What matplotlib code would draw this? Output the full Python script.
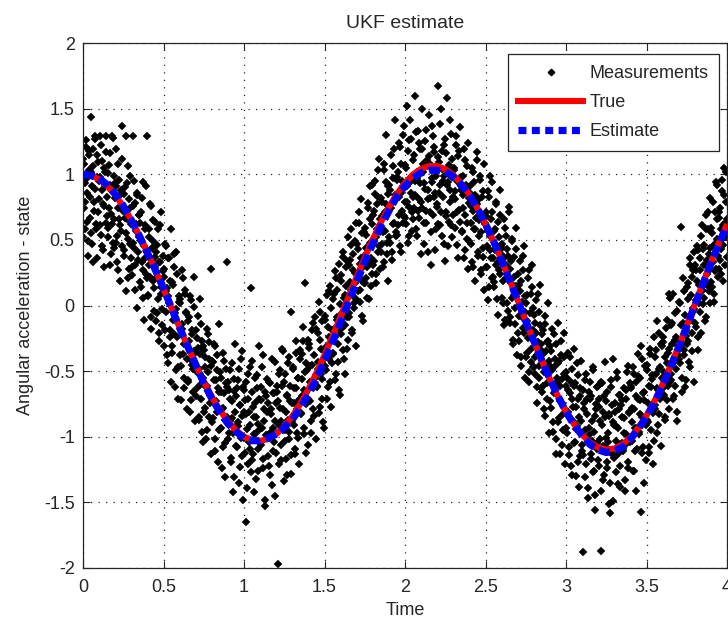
import numpy as np
import matplotlib
matplotlib.use("Agg")
import matplotlib.pyplot as plt
from matplotlib.lines import Line2D

# ---------------- data ----------------
title = "UKF estimate"
xlabel = "Time"
ylabel = "Angular acceleration - state"
legend_labels = ["Measurements", "True", "Estimate"]
xticks = [0, 0.5, 1, 1.5, 2, 2.5, 3, 3.5, 4]
xtick_labels = ["0", "0.5", "1", "1.5", "2", "2.5", "3", "3.5", "4"]
yticks = [-2, -1.5, -1, -0.5, 0, 0.5, 1, 1.5, 2]
ytick_labels = ["-2", "-1.5", "-1", "-0.5", "0", "0.5", "1", "1.5", "2"]

# curves sampled every 0.05 s from t=0 to t=4
curve_t0, curve_t1, curve_n = 0.0, 4.0, 81
true_state = [
    1.000, 0.991, 0.961, 0.911, 0.842, 0.755, 0.652, 0.534, 0.406, 0.268,
    0.125, -0.022, -0.169, -0.312, -0.450, -0.578, -0.695, -0.797, -0.883, -0.951,
    -0.999, -1.026, -1.032, -1.016, -0.979, -0.921, -0.844, -0.749, -0.638, -0.513,
    -0.377, -0.233, -0.083, 0.068, 0.219, 0.366, 0.505, 0.634, 0.750, 0.851,
    0.934, 0.998, 1.041, 1.063, 1.062, 1.039, 0.994, 0.928, 0.843, 0.740,
    0.620, 0.488, 0.345, 0.194, 0.039, -0.117, -0.272, -0.421, -0.562, -0.691,
    -0.806, -0.905, -0.985, -1.044, -1.082, -1.097, -1.090, -1.059, -1.006, -0.932,
    -0.838, -0.727, -0.599, -0.459, -0.309, -0.152, 0.008, 0.169, 0.327, 0.478,
    0.620,
]
estimate = [
    1.00, 0.99, 0.97, 0.92, 0.85, 0.76, 0.65, 0.53, 0.40, 0.27,
    0.13, -0.02, -0.17, -0.31, -0.45, -0.59, -0.71, -0.81, -0.90, -0.96,
    -1.01, -1.03, -1.03, -1.01, -0.98, -0.93, -0.87, -0.78, -0.68, -0.56,
    -0.42, -0.28, -0.13, 0.03, 0.18, 0.33, 0.47, 0.60, 0.72, 0.83,
    0.91, 0.97, 1.01, 1.03, 1.03, 1.02, 0.98, 0.92, 0.84, 0.74,
    0.62, 0.49, 0.34, 0.19, 0.04, -0.12, -0.27, -0.42, -0.56, -0.69,
    -0.81, -0.91, -0.99, -1.06, -1.10, -1.12, -1.11, -1.08, -1.02, -0.94,
    -0.85, -0.74, -0.61, -0.47, -0.32, -0.16, 0.00, 0.16, 0.32, 0.47,
    0.61,
]

# measurements, set A: every 0.005 s from t=0 to t=4
meas_a_t0, meas_a_t1, meas_a_n = 0.0, 4.0, 801
measurements_a = [
    1.12, 0.74, 0.93, 0.58, 1.21, 0.86, 0.49, 1.03, 1.18, 0.67,
    1.44, 0.91, 0.33, 1.06, 0.79, 1.29, 0.62, 0.98, 1.15, 0.71,
    0.95, 1.29, 0.54, 0.88, 1.10, 0.42, 0.76, 1.02, 0.63, 1.29,
    0.83, 0.59, 1.07, 0.31, 0.92, 0.70, 1.29, 0.48, 0.99, 0.66,
    0.82, 1.19, 0.53, 0.74, 0.27, 0.96, 0.61, 0.88, 1.37, 0.45,
    0.73, 0.38, 0.90, 0.55, 1.29, 0.66, 0.21, 0.81, 0.47, 0.99,
    0.62, 0.29, 1.29, 0.44, 0.78, 0.12, 0.57, 0.86, 0.35, 0.69,
    0.52, 0.18, 0.71, 0.33, 0.94, 0.06, 0.45, 0.61, 0.24, 1.29,
    0.41, 0.07, 0.58, 0.22, 0.76, -0.09, 0.35, 0.49, 0.13, 0.64,
    0.29, -0.12, 0.46, 0.05, 0.33, -0.21, 0.61, 0.14, -0.03, 0.38,
    -0.31, 0.22, 0.47, -0.05, 0.13, -0.44, 0.36, 0.02, -0.19, 0.58,
    0.18, -0.36, -0.11, 0.29, -0.62, -0.03, 0.41, -0.24, -0.47, 0.07,
    -0.38, 0.05, -0.72, -0.14, 0.21, -0.29, -0.55, 0.12, -0.06, -0.41,
    -0.12, -0.58, -0.27, -0.81, 0.04, -0.45, -0.19, -0.66, 0.22, -0.36,
    -0.69, -0.25, -0.51, -0.08, -0.87, -0.37, -0.60, -0.14, -0.96, -0.31,
    -0.34, -0.78, -0.47, -1.02, -0.61, -0.22, -0.85, -0.41, -0.68, 0.28,
    -0.89, -0.43, -0.72, -0.29, -1.11, -0.57, -0.81, -0.38, -0.63, -0.95,
    -0.51, -0.93, -0.66, -1.24, -0.78, -0.42, -0.87, -1.05, -0.59, 0.33,
    -1.02, -0.64, -0.88, -0.49, -1.19, -0.73, -0.97, -0.56, -1.31, -0.81,
    -0.69, -1.08, -0.57, -0.92, -1.35, -0.76, -0.41, -1.15, -0.84, -0.62,
    -1.01, -0.72, -1.65, -0.58, -0.94, -1.21, -0.81, -0.47, -1.09, 0.13,
    -0.66, -1.13, -0.85, -1.42, -0.74, -0.97, -0.53, -1.26, -0.90, -0.71,
    -1.05, -0.62, -0.93, -0.38, -1.17, -0.79, -1.48, -0.69, -0.99, -0.56,
    -0.74, -1.22, -0.59, -0.96, -0.83, -1.37, -0.67, -1.04, -0.43, -0.88,
    -1.12, -0.66, -1.97, -0.91, -0.52, -0.78, -1.18, -0.61, -0.95, -0.35,
    -0.58, -1.03, -0.81, -1.29, -0.69, -0.44, -0.96, -0.73, -1.14, -0.05,
    -0.88, -0.47, -0.74, -1.09, -0.36, -0.63, -0.97, -0.55, -1.21, -0.71,
    -0.41, -0.83, -0.56, -0.27, -0.98, -0.64, 0.17, -0.75, -0.49, -1.06,
    -0.71, -0.32, -0.58, -0.88, -0.19, -0.45, -0.79, -0.62, -0.09, -0.53,
    -0.18, -0.61, -0.43, -0.82, -0.26, -0.05, -0.52, -0.71, -0.34, -0.93,
    -0.46, -0.11, -0.33, 0.08, -0.62, -0.24, -0.41, 0.15, -0.77, -0.19,
    0.05, -0.37, -0.18, 0.26, -0.52, -0.09, 0.12, -0.29, -0.64, 0.01,
    -0.22, 0.19, -0.06, 0.37, -0.41, 0.08, -0.15, 0.29, -0.33, 0.52,
    0.31, -0.09, 0.18, 0.46, -0.21, 0.07, 0.39, -0.02, 0.25, 0.63,
    0.04, 0.43, 0.21, 0.71, 0.12, 0.36, -0.08, 0.55, 0.29, 0.17,
    0.59, 0.21, 0.44, 0.06, 0.74, 0.33, 0.91, 0.48, 0.15, 0.62,
    0.31, 0.72, 0.49, 0.95, 0.24, 0.58, 0.83, 0.41, 1.12, 0.66,
    0.82, 0.47, 0.68, 0.29, 1.03, 0.57, 0.77, 1.30, 0.39, 0.91,
    0.52, 0.88, 0.74, 1.15, 0.41, 0.97, 0.63, 1.41, 0.81, 0.56,
    0.96, 0.61, 1.24, 0.83, 0.45, 1.08, 0.72, 0.91, 1.30, 0.68,
    0.67, 1.05, 1.52, 0.79, 1.18, 0.53, 0.94, 1.27, 0.86, 0.71,
    1.11, 0.74, 0.95, 1.60, 0.58, 1.02, 1.33, 0.81, 0.67, 1.19,
    0.79, 1.50, 1.08, 0.63, 0.93, 1.25, 0.72, 1.06, 0.41, 0.88,
    1.14, 0.82, 0.31, 1.37, 0.97, 0.69, 1.21, 0.86, 1.04, 0.58,
    0.75, 1.67, 1.09, 0.92, 0.61, 1.50, 1.18, 0.83, 0.99, 0.47,
    1.27, 0.71, 1.58, 0.94, 1.05, 0.64, 0.88, 1.31, 0.52, 1.12,
    0.69, 1.03, 0.81, 1.22, 0.46, 0.95, 1.14, 0.73, 1.36, 0.88,
    0.98, 0.57, 0.84, 0.36, 1.11, 0.69, 0.92, 0.51, 1.24, 0.78,
    0.49, 0.86, 0.63, 1.05, 0.72, 0.29, 0.94, 0.58, 0.81, 1.17,
    0.77, 0.41, 0.65, 0.99, 0.24, 0.56, 0.83, 0.37, 1.08, 0.62,
    0.29, 0.68, 0.45, 0.87, 0.14, 0.53, 0.99, 0.36, 0.71, 0.22,
    0.57, 0.18, 0.42, 0.79, 0.05, 0.33, 0.64, 0.27, 0.88, 0.46,
    0.06, 0.44, 0.19, 0.66, -0.11, 0.31, 0.53, 0.02, 0.38, 0.75,
    0.28, -0.09, 0.17, 0.49, -0.26, 0.08, 0.37, -0.14, 0.59, 0.12,
    -0.21, 0.16, -0.08, 0.34, -0.39, 0.03, 0.27, -0.17, 0.45, -0.05,
    0.02, -0.36, -0.12, 0.21, -0.51, -0.24, 0.09, -0.43, 0.31, -0.19,
    -0.47, -0.13, -0.39, 0.04, -0.62, -0.28, -0.05, -0.55, 0.16, -0.34,
    -0.22, -0.61, -0.37, -0.79, -0.14, -0.49, -0.28, -0.71, 0.02, -0.45,
    -0.73, -0.35, -0.59, -0.18, -0.89, -0.47, -0.66, -1.02, -0.29, -0.55,
    -0.44, -0.86, -0.61, -1.13, -0.38, -0.74, -0.95, -0.52, -0.21, -0.79,
    -0.93, -0.55, -0.81, -0.36, -1.08, -0.67, -1.22, -0.71, -0.48, -0.88,
    -0.61, -1.04, -0.77, -1.30, -0.92, -0.53, -0.85, -1.15, -0.69, -0.42,
    -1.06, -1.88, -0.74, -0.95, -0.57, -1.21, -0.83, -1.39, -0.66, -0.99,
    -0.71, -1.13, -0.88, -0.49, -1.27, -0.96, -1.44, -0.79, -1.05, -0.62,
    -1.18, -0.77, -1.02, -1.87, -0.58, -0.91, -1.33, -0.69, -1.08, -0.85,
    -0.73, -1.24, -0.97, -1.51, -0.84, -1.58, -0.62, -1.11, -0.89, -0.41,
    -1.16, -0.81, -1.03, -0.55, -1.36, -0.93, -0.68, -1.22, -0.76, -1.05,
    -0.72, -1.09, -0.86, -1.41, -0.64, -0.98, -0.51, -1.19, -0.81, -1.04,
    -1.02, -0.63, -0.89, -0.47, -1.26, -0.79, -1.11, -0.58, -0.93, -0.71,
    -0.54, -0.96, -0.72, -1.57, -0.85, -0.41, -1.08, -0.66, -0.89, -1.18,
    -0.87, -0.49, -0.74, -1.12, -0.33, -0.62, -0.95, -0.56, -0.79, -1.03,
    -0.39, -0.76, -0.52, -0.97, -0.64, -0.21, -0.83, -0.47, -0.69, -0.31,
    -0.63, -0.28, -0.51, -0.85, -0.17, -0.44, -0.72, -0.36, 0.09, -0.58,
    -0.15, -0.52, -0.29, -0.71, -0.43, -0.06, -0.61, -0.24, -0.88, -0.38,
    -0.41, 0.02, -0.27, 0.60, -0.55, -0.13, -0.34, 0.11, -0.62, -0.19,
    0.14, -0.27, 0.05, -0.43, 0.31, -0.11, 0.22, -0.35, -0.02, 0.41,
    -0.13, 0.27, 0.04, 0.45, -0.24, 0.16, 0.36, -0.05, 0.53, 0.11,
    0.43, 0.06, 0.31, -0.12, 0.58, 0.24, 0.71, 0.15, 0.39, 0.02,
    0.18, 0.55, 0.33, 0.79, 0.09, 0.47, 0.28, 0.66, 0.92, 0.38,
    0.71, 0.35, 0.58, 0.24, 0.87, 0.46, 1.05, 0.63, 0.31, 0.79,
    0.66,
]

# measurements, set B: every 0.005 s from t=0.0025 to t=3.9975
meas_b_t0, meas_b_t1, meas_b_n = 0.0025, 3.9975, 800
measurements_b = [
    0.52, 1.08, 0.79, 1.26, 0.64, 0.97, 0.38, 1.15, 0.83, 0.55,
    1.02, 0.47, 1.19, 0.72, 0.89, 1.27, 0.58, 0.36, 1.09, 0.81,
    0.61, 0.98, 1.22, 0.45, 0.77, 1.05, 0.29, 0.91, 1.17, 0.68,
    1.01, 0.52, 0.74, 1.16, 0.39, 0.87, 0.62, 1.28, 0.44, 0.93,
    0.48, 0.91, 0.33, 1.08, 0.66, 0.19, 0.84, 0.57, 1.12, 0.72,
    0.85, 0.42, 0.67, 0.11, 0.93, 0.51, 1.06, 0.28, 0.74, 0.36,
    0.23, 0.76, 0.48, 0.95, 0.31, 0.62, -0.02, 0.84, 0.41, 0.69,
    0.63, 0.14, 0.49, 0.82, 0.27, -0.11, 0.58, 0.36, 0.91, 0.21,
    0.08, 0.52, 0.31, 0.77, -0.18, 0.44, 0.19, 0.65, -0.04, 0.37,
    0.41, -0.06, 0.22, 0.58, -0.27, 0.33, 0.09, 0.71, -0.15, 0.26,
    0.28, -0.19, 0.11, 0.45, -0.38, 0.07, 0.36, -0.24, 0.19, -0.58,
    -0.31, 0.16, -0.22, 0.39, -0.06, -0.49, 0.24, -0.13, -0.71, 0.03,
    0.02, -0.46, -0.18, 0.27, -0.37, -0.63, 0.09, -0.28, -0.05, -0.79,
    -0.57, -0.09, -0.41, 0.07, -0.72, -0.22, -0.48, -0.01, -0.35, -0.88,
    -0.19, -0.63, -0.32, -0.85, -0.48, 0.05, -0.71, -0.27, -0.55, -1.04,
    -0.81, -0.39, -0.62, -0.18, -0.95, -0.51, -0.28, -0.74, -1.13, -0.46,
    -0.42, -0.86, -0.57, -1.02, -0.31, -0.73, -0.49, -1.19, -0.66, -0.14,
    -0.94, -0.55, -0.79, -0.36, -1.08, -0.67, -1.31, -0.48, -0.85, -0.62,
    -0.58, -0.97, -0.71, -1.16, -0.44, -0.86, -1.42, -0.65, -0.29, -0.92,
    -1.07, -0.63, -0.89, -0.48, -1.23, -0.76, -1.01, -0.35, -1.48, -0.81,
    -0.64, -1.12, -0.83, -1.39, -0.71, -0.52, -1.04, -0.91, -1.27, -0.42,
    -1.18, -0.77, -0.98, -0.55, -1.32, -0.85, -0.63, -1.09, -0.31, -0.94,
    -0.72, -1.06, -0.47, -1.24, -0.88, -1.53, -0.66, -0.99, -0.81, -1.15,
    -1.01, -0.58, -1.29, -0.79, -0.41, -1.11, -0.93, -0.67, -1.45, -0.74,
    -0.61, -0.97, -0.73, -1.21, -0.49, -0.88, -1.06, -0.33, -0.79, -1.34,
    -0.95, -0.52, -1.17, -0.68, -0.87, -0.39, -1.02, -0.61, -1.28, -0.74,
    -0.48, -0.91, -0.63, -1.13, -0.27, -0.79, -0.55, -1.01, -0.72, -0.34,
    -0.82, -0.37, -0.69, -0.16, -0.93, -0.51, -1.12, -0.44, -0.71, -0.26,
    -0.29, -0.73, -0.46, -0.97, -0.61, -0.13, -0.84, -0.38, -0.55, -1.02,
    -0.62, -0.21, -0.48, 0.03, -0.77, -0.33, -0.56, -0.12, -0.89, -0.41,
    -0.08, -0.49, -0.31, -0.71, -0.16, 0.11, -0.58, -0.37, -0.02, -0.44,
    -0.36, 0.09, -0.24, -0.57, 0.21, -0.11, -0.43, 0.32, -0.19, -0.68,
    0.23, -0.17, 0.41, -0.34, 0.06, -0.52, 0.15, -0.09, 0.34, -0.26,
    -0.06, 0.35, 0.12, 0.58, -0.19, 0.27, 0.02, 0.49, 0.17, -0.31,
    0.47, 0.11, 0.63, 0.03, 0.32, 0.81, 0.19, -0.12, 0.56, 0.38,
    0.17, 0.54, 0.29, 0.78, 0.43, 0.05, 0.66, 0.36, 0.92, 0.24,
    0.69, 0.34, 0.85, 0.52, 0.17, 0.77, 1.03, 0.45, 0.61, 0.28,
    0.41, 0.79, 0.56, 1.08, 0.33, 0.71, 0.94, 0.48, 0.85, 0.19,
    0.92, 0.48, 0.77, 0.35, 1.06, 0.62, 1.19, 0.84, 0.53, 0.98,
    0.54, 1.02, 0.69, 1.21, 0.86, 0.41, 0.95, 0.63, 1.37, 0.79,
    1.07, 0.62, 0.91, 0.48, 1.26, 0.75, 1.41, 0.98, 0.57, 0.83,
    0.66, 1.15, 0.84, 1.32, 0.53, 0.97, 0.72, 1.24, 0.93, 0.39,
    1.19, 0.74, 1.02, 0.47, 0.89, 1.34, 0.63, 1.11, 0.81, 1.45,
    0.71, 1.08, 0.56, 0.94, 1.29, 0.83, 1.17, 0.42, 0.99, 0.77,
    1.13, 0.62, 0.86, 1.38, 0.71, 1.04, 0.53, 0.95, 1.22, 0.34,
    0.68, 1.16, 0.92, 0.45, 1.07, 0.79, 1.41, 0.61, 0.98, 0.83,
    1.05, 0.59, 0.87, 1.29, 0.71, 0.36, 0.96, 1.18, 0.64, 0.91,
    0.56, 0.99, 0.74, 1.19, 0.42, 0.87, 0.63, 1.06, 0.28, 0.82,
    0.91, 0.47, 0.76, 0.33, 1.02, 0.58, 0.84, 0.19, 0.67, 1.11,
    0.38, 0.81, 0.53, 0.96, 0.27, 0.69, 0.44, 0.87, 0.12, 0.63,
    0.71, 0.29, 0.57, 0.04, 0.83, 0.42, 0.66, 0.21, 0.94, 0.36,
    0.14, 0.58, 0.31, 0.77, 0.45, -0.07, 0.52, 0.24, 0.69, 0.39,
    0.47, 0.02, 0.36, -0.15, 0.59, 0.21, 0.43, -0.04, 0.28, 0.71,
    -0.13, 0.34, 0.06, 0.51, -0.29, 0.22, -0.02, 0.43, 0.15, -0.38,
    0.24, -0.27, 0.11, -0.46, 0.19, -0.09, 0.38, -0.21, 0.07, -0.55,
    -0.39, 0.08, -0.25, 0.27, -0.58, -0.06, -0.33, 0.14, -0.47, -0.02,
    -0.07, -0.52, -0.21, -0.74, -0.38, 0.09, -0.46, -0.15, -0.63, -0.29,
    -0.66, -0.19, -0.51, -0.08, -0.84, -0.35, -0.59, -0.27, -0.97, -0.42,
    -0.31, -0.78, -0.49, -0.96, -0.22, -0.67, -0.41, -1.13, -0.58, -0.13,
    -0.89, -0.42, -0.73, -0.27, -1.06, -0.56, -0.83, -0.39, -1.21, -0.61,
    -0.51, -0.97, -0.64, -1.14, -0.39, -0.86, -0.58, -1.29, -0.77, -0.33,
    -1.05, -0.59, -0.94, -0.44, -1.19, -0.71, -1.38, -0.63, -0.88, -1.11,
    -0.64, -1.14, -0.79, -1.31, -0.52, -1.02, -0.71, -1.47, -0.93, -0.58,
    -1.17, -0.69, -1.03, -0.47, -1.26, -0.84, -1.56, -0.75, -1.09, -0.61,
    -0.71, -1.22, -0.88, -1.41, -0.59, -1.07, -0.81, -1.29, -0.43, -1.01,
    -1.19, -0.66, -1.04, -0.83, -1.35, -0.57, -1.12, -0.76, -1.49, -0.91,
    -0.74, -1.27, -0.92, -0.51, -1.13, -0.79, -1.38, -0.68, -1.06, -0.85,
    -1.11, -0.63, -0.97, -1.33, -0.71, -1.05, -0.46, -1.24, -0.82, -0.59,
    -0.61, -1.03, -0.78, -1.26, -0.52, -0.93, -1.41, -0.69, -1.09, -0.37,
    -0.98, -0.55, -0.83, -0.31, -1.12, -0.67, -1.35, -0.72, -0.46, -0.91,
    -0.45, -0.89, -0.61, -1.08, -0.37, -0.76, -0.53, -1.21, -0.82, -0.24,
    -0.79, -0.34, -0.63, -0.12, -0.91, -0.48, -0.71, -0.29, -1.07, -0.55,
    -0.24, -0.68, -0.39, -0.87, -0.53, -0.11, -0.61, -0.33, -0.79, 0.06,
    -0.57, -0.13, -0.42, 0.09, -0.69, -0.26, -0.48, -0.04, -0.81, -0.31,
    0.03, -0.44, -0.15, -0.66, -0.29, 0.21, -0.38, -0.07, -0.57, -0.23,
    -0.29, 0.17, -0.12, 0.36, -0.47, 0.08, -0.21, 0.27, -0.58, -0.03,
    0.31, -0.16, 0.19, -0.34, 0.42, 0.02, 0.27, -0.21, 0.61, 0.12,
    0.01, 0.46, 0.17, 0.69, -0.09, 0.35, 0.58, 0.11, 0.44, 0.82,
    0.59, 0.14, 0.45, 0.03, 0.71, 0.26, 0.94, 0.51, 0.22, 0.67,
    0.28, 0.74, 0.43, 0.96, 0.61, 0.19, 0.84, 0.52, 1.02, 0.37,
]

# ---------------- figure ----------------
FONT = ["Liberation Sans", "DejaVu Sans"]
plt.rcParams["font.family"] = FONT
TXT = "#262626"

W, H = 728, 622
fig = plt.figure(figsize=(W / 100, H / 100), dpi=100)
L, R, T, B = 83, 727, 43, 568
ax = fig.add_axes([L / W, 1 - B / H, (R - L) / W, (B - T) / H])

t_curve = np.linspace(curve_t0, curve_t1, curve_n)
t_meas = np.concatenate([np.linspace(meas_a_t0, meas_a_t1, meas_a_n),
                         np.linspace(meas_b_t0, meas_b_t1, meas_b_n)])
y_meas = np.concatenate([measurements_a, measurements_b])

MS = 3.8
ax.plot(t_meas, y_meas, linestyle="none", marker="D", markersize=MS,
        markerfacecolor="black", markeredgecolor="black", markeredgewidth=0.3,
        zorder=2)
ax.plot(t_curve, true_state, color="#ff0000", linewidth=4.4,
        solid_capstyle="butt", zorder=3)
ax.plot(t_curve, estimate, color="#0000ff", linewidth=5.2,
        linestyle=(0, (1.6, 0.75)), dash_capstyle="butt", zorder=4)

ax.set_xlim(0, 4)
ax.set_ylim(-2, 2)
ax.set_xticks(xticks)
ax.set_xticklabels(xtick_labels)
ax.set_yticks(yticks)
ax.set_yticklabels(ytick_labels)
ax.tick_params(direction="in", length=5, width=0.8, top=True, right=True,
               labelsize=13, colors=TXT)
ax.tick_params(axis="x", pad=8)
ax.tick_params(axis="y", pad=6)
for sp in ax.spines.values():
    sp.set_linewidth(0.9)
    sp.set_color(TXT)
ax.grid(True, color=TXT, linestyle=(0, (1, 5)), linewidth=0.9)
ax.set_axisbelow(True)

ax.set_title(title, fontsize=14, color=TXT, pad=11)
ax.set_xlabel(xlabel, fontsize=13, color=TXT, labelpad=4)
ax.set_ylabel(ylabel, fontsize=13, color=TXT, labelpad=7)

handles = [
    Line2D([], [], linestyle="none", marker="D", markersize=3.3, color="black"),
    Line2D([], [], color="#ff0000", linewidth=4.4),
    Line2D([], [], color="#0000ff", linewidth=5.2, linestyle=(0, (1.1, 0.75))),
]
leg = ax.legend(handles, legend_labels, loc="upper right",
                bbox_to_anchor=((719 - L) / (R - L), 1 - (54 - T) / (B - T)),
                borderaxespad=0, fancybox=False, framealpha=1,
                edgecolor=TXT, fontsize=13, handlelength=3.6,
                handletextpad=0.32, borderpad=0.6, labelspacing=0.68)
leg.get_frame().set_linewidth(0.9)
for txt in leg.get_texts():
    txt.set_color(TXT)

fig.savefig("out.png", dpi=100)
